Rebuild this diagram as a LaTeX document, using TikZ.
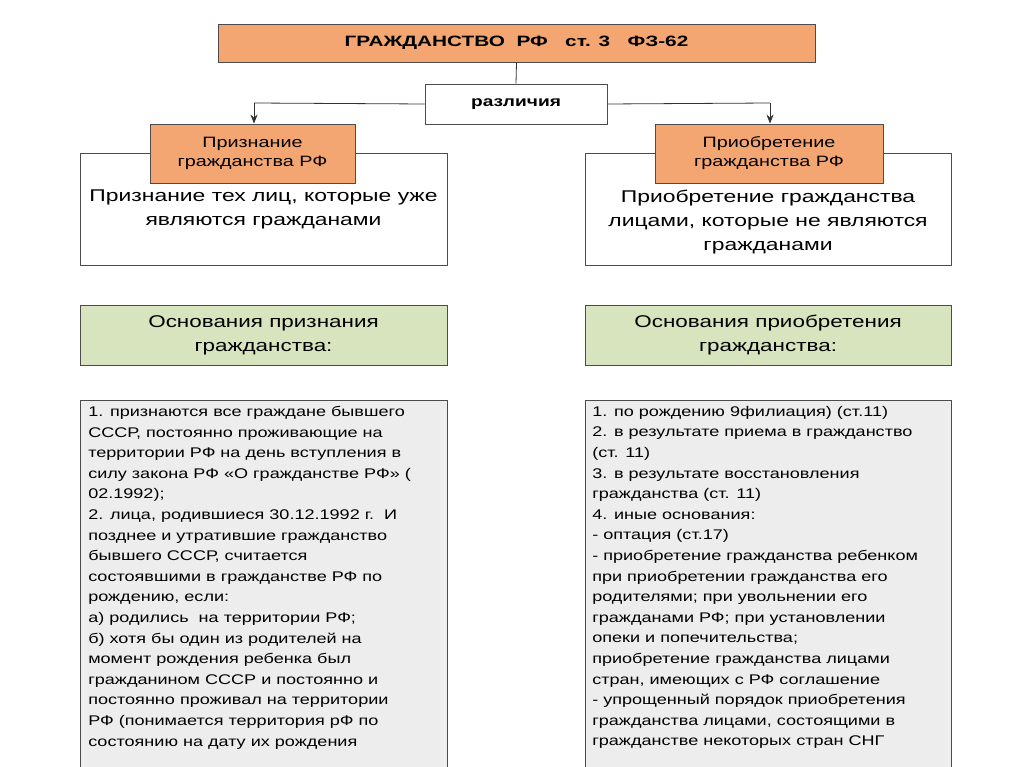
\documentclass[tikz,border=0pt]{standalone}
\usepackage{fontspec}
\setmainfont{Liberation Sans}
\usetikzlibrary{arrows.meta}
\definecolor{orng}{HTML}{F4A672}
\definecolor{grn}{HTML}{D7E4BD}
\definecolor{gry}{HTML}{EDEDED}
\begin{document}
\begin{tikzpicture}[x=1pt,y=-1pt,
  bx/.style={draw=black!70,line width=0.8pt,inner sep=0pt},
  tx/.style={align=center,inner sep=0pt,xscale=1.32,transform shape},
  lt/.style={anchor=north west,align=left,inner sep=0pt,font=\fontsize{14}{20.6}\selectfont,xscale=1.29,transform shape},
  arr/.style={-{Stealth[length=9pt,width=7pt]},line width=0.8pt,draw=black!80}]
\useasboundingbox (0,0) rectangle (1024,767);
\fill[white] (0,0) rectangle (1024,767);
% top
\node[bx,fill=orng,minimum width=597,minimum height=38] (top) at (516.5,43) {};
\node[tx,xscale=1.05,font=\fontsize{15}{16}\selectfont\bfseries] at (top) {ГРАЖДАНСТВО\ \ РФ\ \ \ ст. 3\ \ \ ФЗ-62};
\coordinate (hl) at (254,103);
\coordinate (hr) at (770,103);
\node[bx,fill=white,minimum width=182,minimum height=40] (diff) at (516,104) {};
\node[tx,font=\fontsize{14.5}{16}\selectfont\bfseries] at (diff) {различия};
\draw[line width=0.8pt,black!80] (top.south) -- (diff.north);
\draw[line width=0.8pt,black!80] (hl) -- (diff.west) (diff.east) -- (hr);
% white boxes
\node[bx,fill=white,minimum width=367,minimum height=112] (lw) at (263.5,209) {};
\node[bx,fill=white,minimum width=366,minimum height=112] (rw) at (768,209) {};
\node[bx,fill=orng,minimum width=205,minimum height=59] (lo) at (252.5,153.5) {};
\node[tx,font=\fontsize{15}{19}\selectfont] at (lo) {Признание\\гражданства РФ};
\node[bx,fill=orng,minimum width=228,minimum height=59] (ro) at (769,153.5) {};
\node[tx,font=\fontsize{15}{19}\selectfont] at (ro) {Приобретение\\гражданства РФ};
\draw[arr] (hl) -- (lo.north-|hl);
\draw[arr] (hr) -- (ro.north-|hr);
\node[tx,xscale=1.02,font=\fontsize{17}{24}\selectfont] at (263.5,209) {Признание тех лиц, которые уже\\являются гражданами};
\node[tx,xscale=1.02,font=\fontsize{17}{24}\selectfont] at (768,222) {Приобретение гражданства\\лицами, которые не являются\\гражданами};
% green
\node[bx,fill=grn,minimum width=367,minimum height=60] (lg) at (263.5,335) {};
\node[tx,font=\fontsize{17}{24}\selectfont] at (lg) {Основания признания\\гражданства:};
\node[bx,fill=grn,minimum width=366,minimum height=60] (rg) at (768,335) {};
\node[tx,font=\fontsize{17}{24}\selectfont] at (rg) {Основания приобретения\\гражданства:};
% gray
\node[bx,fill=gry,minimum width=367,minimum height=380] (lb) at (263.5,590) {};
\node[bx,fill=gry,minimum width=366,minimum height=380] (rb) at (768,590) {};
\node[lt] at (88,406) {1. признаются все граждане бывшего\\СССР, постоянно проживающие на\\территории РФ на день вступления в\\силу закона РФ «О гражданстве РФ» (\\02.1992);\\2. лица, родившиеся 30.12.1992 г.\ \ И\\позднее и утратившие гражданство\\бывшего СССР, считается\\состоявшими в гражданстве РФ по\\рождению, если:\\а) родились\ \ на территории РФ;\\б) хотя бы один из родителей на\\момент рождения ребенка был\\гражданином СССР и постоянно и\\постоянно проживал на территории\\РФ (понимается территория рФ по\\состоянию на дату их рождения};
\node[lt] at (592,406) {1. по рождению 9филиация) (ст.11)\\2. в результате приема в гражданство\\(ст. 11)\\3. в результате восстановления\\гражданства (ст. 11)\\4. иные основания:\\- оптация (ст.17)\\- приобретение гражданства ребенком\\при приобретении гражданства его\\родителями; при увольнении его\\гражданами РФ; при установлении\\опеки и попечительства;\\приобретение гражданства лицами\\стран, имеющих с РФ соглашение\\- упрощенный порядок приобретения\\гражданства лицами, состоящими в\\гражданстве некоторых стран СНГ};
\end{tikzpicture}
\end{document}
